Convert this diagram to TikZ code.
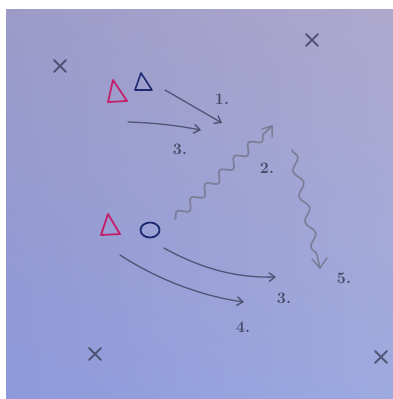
\documentclass[tikz,border=0pt]{standalone}
\usetikzlibrary{arrows.meta,decorations.pathmorphing,shadings,calc,shapes.geometric}
\definecolor{pencil}{HTML}{454966}
\definecolor{penred}{HTML}{C4206A}
\definecolor{penblue}{HTML}{1C2A70}
\definecolor{bgtl}{HTML}{9C9BC8}
\definecolor{bgtr}{HTML}{AEA8CC}
\definecolor{bgbl}{HTML}{8D99DA}
\definecolor{bgbr}{HTML}{9DAAE0}
\tikzset{
  pen/.style={draw=pencil, line width=1.3pt, line cap=round, opacity=0.85},
  penarrow/.style={pen, -{Straight Barb[length=6pt,width=9pt,line width=1.4pt]}},
  wavy/.style={draw=pencil!75, line width=1.7pt, line cap=round, opacity=0.8,
    decorate, decoration={snake, segment length=20pt, amplitude=4.5pt, post length=6pt}},
  xmark/.style={draw=pencil, line width=1.8pt, line cap=round, opacity=0.85},
  lbl/.style={text=pencil, font=\fontsize{16}{16}\selectfont\bfseries, inner sep=0pt},
  redtri/.style={draw=penred, line width=1.8pt, line join=round},
  bluetri/.style={draw=penblue, line width=1.6pt, line join=round},
}
\begin{document}
\begin{tikzpicture}[x=1pt,y=-1pt]
\useasboundingbox (0,0) rectangle (393,399);
\fill[white] (0,0) rectangle (393,399);
\shade[upper left=bgtl, upper right=bgtr, lower left=bgbl, lower right=bgbr] (6,9) rectangle (393,399);
% x marks
\foreach \px/\py/\nm in {60/66/xa, 312/40/xb, 95/354/xc, 381/357/xd}{
  \coordinate (\nm) at (\px,\py);
  \draw[xmark] ($(\nm)+(-6,-6)$) -- ($(\nm)+(6,6)$) ($(\nm)+(6,-6)$) -- ($(\nm)+(-6,6)$);
}
% players
\draw[redtri] (113,80) -- (108,102) -- (127,101) -- cycle;
\draw[bluetri] (141,73) -- (135,90) -- (152,90) -- cycle;
\draw[redtri] (108,214) -- (101,235) -- (120,234) -- cycle;
\node[draw=penblue, line width=1.8pt, ellipse, minimum width=19pt, minimum height=15pt, inner sep=0pt] (o) at (150,230) {};
% arrows
\coordinate (a1s) at (165,90);  \coordinate (a1e) at (222,123);
\coordinate (a3s) at (128,122); \coordinate (a3e) at (201,130);
\draw[penarrow] (a1s) -- (a1e);
\draw[penarrow] (a3s) to[bend left=4] (a3e);
\coordinate (b3s) at (164,248); \coordinate (b3e) at (276,277);
\coordinate (b4s) at (120,255); \coordinate (b4e) at (244,302);
\draw[penarrow] (b3s) .. controls (200,268) and (235,278) .. (b3e);
\draw[penarrow] (b4s) .. controls (155,278) and (200,296) .. (b4e);
% wavy
\coordinate (w2s) at (175,219); \coordinate (w2e) at (272,126);
\coordinate (w5s) at (292,150); \coordinate (w5e) at (320,268);
\draw[wavy] (w2s) -- (w2e);
\draw[draw=pencil!75, line width=1.5pt, opacity=0.8, line cap=round] (262,129) -- (272,126) -- (272,137);
\draw[wavy, decoration={snake, segment length=26pt, amplitude=4pt, post length=7pt}] (w5s) -- (w5e);
\draw[draw=pencil!75, line width=1.5pt, opacity=0.8, line cap=round] (312,259) -- (320,268) -- (327,258);
% labels
\node[lbl] (l1) at (222,99) {1.};
\node[lbl] (l3a) at (180,149) {3.};
\node[lbl] (l2) at (267,168) {2.};
\node[lbl] (l5) at (344,278) {5.};
\node[lbl] (l3b) at (284,298) {3.};
\node[lbl] (l4) at (243,327) {4.};
\end{tikzpicture}
\end{document}
